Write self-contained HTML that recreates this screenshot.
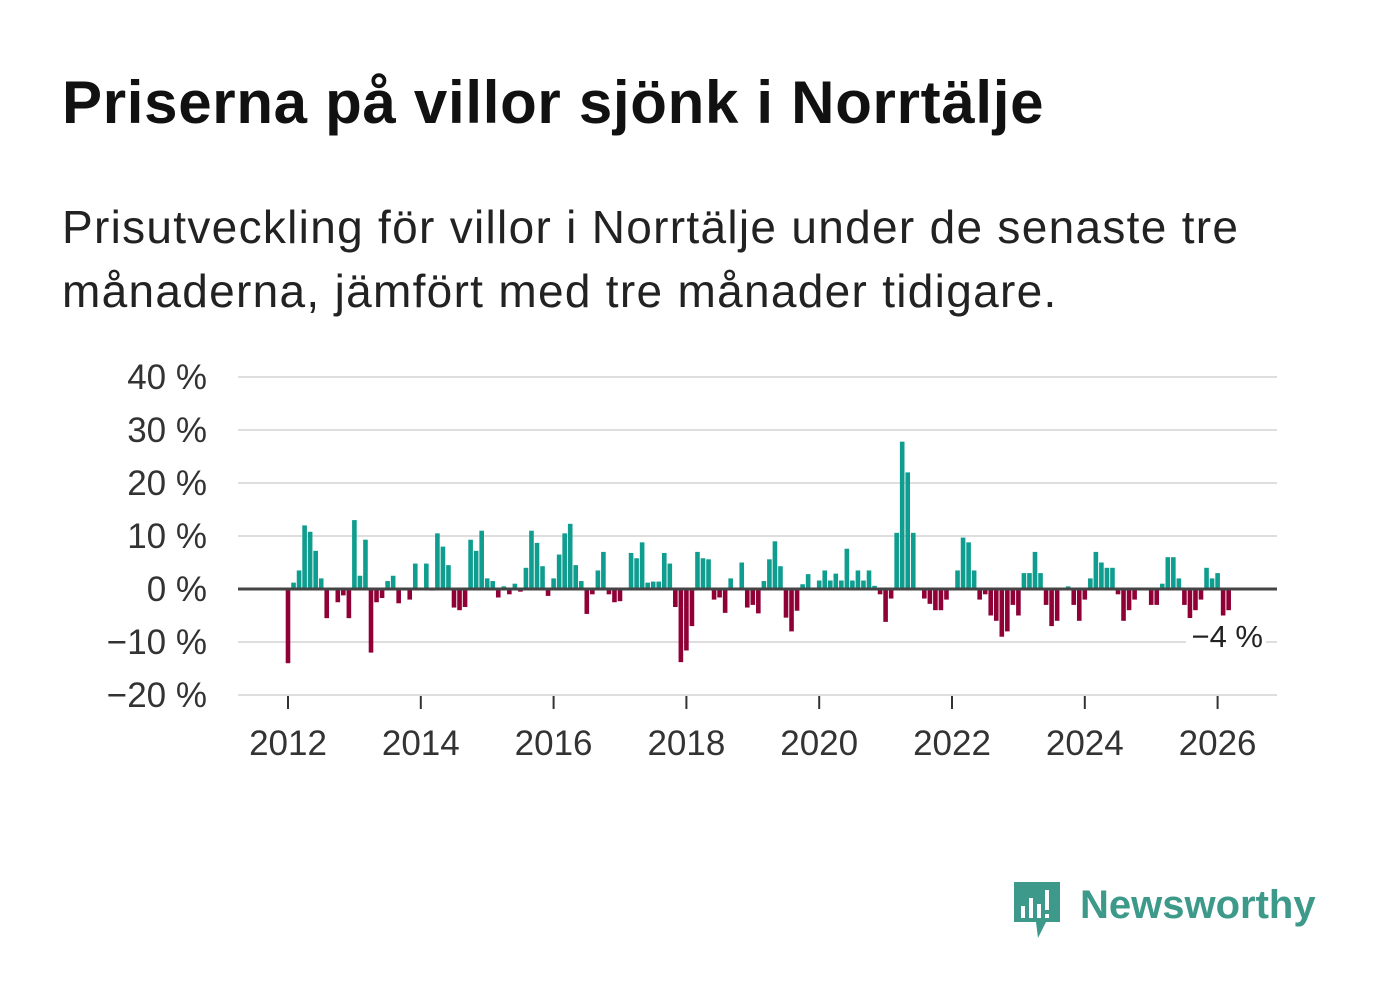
<!DOCTYPE html>
<html><head><meta charset="utf-8">
<style>
body{margin:0;background:#fff;width:1382px;height:999px;overflow:hidden;font-family:"Liberation Sans",sans-serif;}
#title{position:absolute;left:62px;top:68px;font-size:60px;font-weight:bold;color:#111;white-space:nowrap;letter-spacing:0.7px;}
#sub{position:absolute;left:62px;top:195px;font-size:46px;line-height:64px;color:#222;width:1310px;letter-spacing:1.3px;white-space:nowrap;}
svg{position:absolute;left:0;top:0;}
</style></head><body>
<div id="title">Priserna på villor sjönk i Norrtälje</div>
<div id="sub">Prisutveckling för villor i Norrtälje under de senaste tre<br>månaderna, jämfört med tre månader tidigare.</div>
<svg id="chart" width="1382" height="999"></svg>
<script>
const values=[-14,1.2,3.5,12,10.8,7.2,2,-5.5,0,-2.5,-1.2,-5.5,13,2.5,9.3,-12,-2.5,-1.7,1.5,2.5,-2.7,0,-2,4.8,0,4.8,-0.3,10.5,8,4.5,-3.5,-4,-3.4,9.3,7.2,11,2,1.5,-1.6,0.5,-1,1,-0.5,4,11,8.7,4.3,-1.3,2,6.5,10.5,12.3,4.5,1.5,-4.7,-1,3.5,7,-1,-2.5,-2.3,0,6.8,5.8,8.8,1.2,1.4,1.4,6.8,4.8,-3.4,-13.8,-11.6,-7,7,5.8,5.6,-2,-1.6,-4.5,2,0,5,-3.5,-3,-4.6,1.5,5.6,9,4.3,-5.4,-8,-4.1,0.9,2.8,0,1.6,3.5,1.6,2.9,1.6,7.6,1.6,3.5,1.6,3.5,0.6,-1,-6.2,-1.8,10.6,27.8,22,10.6,0,-1.8,-2.8,-4,-4,-2,0,3.5,9.7,8.8,3.5,-2,-1,-5,-6,-9,-8,-3,-5,3,3,7,3,-3,-7,-6,0,0.5,-3,-6,-2,2,7,5,4,4,-1,-6,-4,-2,0,0,-3,-3,1,6,6,2,-3,-6,-4,-2,4,2,3,-5,-4];
const yTicks=[40,30,20,10,0,-10,-20];
const yTickLabels=["40 %","30 %","20 %","10 %","0 %","−10 %","−20 %"];
const xYears=[2012,2014,2016,2018,2020,2022,2024,2026];
const startYear=2012;
const lastLabel="−4 %";

const NS="http://www.w3.org/2000/svg";
const svg=document.getElementById('chart');
const y=v=>589-v*5.3;
const x=m=>288+m*(66.4/12);
function mk(t,a){const e=document.createElementNS(NS,t);for(const k in a)e.setAttribute(k,a[k]);svg.appendChild(e);return e;}
yTicks.forEach((t,i)=>{
  if(t!==0){const g=mk('line',{x1:238,x2:1277,y1:y(t),y2:y(t),stroke:'#dedede','stroke-width':2});
  
  }
  const l=mk('text',{x:207,y:y(t)+12,'text-anchor':'end','font-size':35,fill:'#333','font-family':'Liberation Sans, sans-serif'});
  l.textContent=yTickLabels[i];
  
  
});
values.forEach((v,i)=>{
  const b=mk('rect',{x:x(i)-2.3,width:4.6,y:Math.min(y(v),y(0)),height:Math.abs(y(v)-y(0)),fill:v>=0?'#0e9d8e':'#8f0037'});
  
  
});
const z=mk('line',{x1:238,x2:1277,y1:y(0),y2:y(0),stroke:'#444','stroke-width':3});


xYears.forEach(yr=>{
  const xx=x((yr-startYear)*12);
  const t=mk('line',{x1:xx,x2:xx,y1:696,y2:709,stroke:'#333','stroke-width':2});
  
  
  const l=mk('text',{x:xx,y:755,'text-anchor':'middle','font-size':35,fill:'#333','font-family':'Liberation Sans, sans-serif'});
  l.textContent=yr;
  
  
});
const bg=mk('rect',{x:1186,y:618,width:80,height:36,fill:'#fff'});


const lv=mk('text',{x:1263,y:647,'text-anchor':'end','font-size':31,fill:'#222','font-family':'Liberation Sans, sans-serif'});
lv.textContent=lastLabel;


</script>
<svg width="1382" height="999" style="position:absolute;left:0;top:0;pointer-events:none">
<path d="M1014 882 h46 v40 h-14 l-8 16 l-2-16 h-22 z" fill="#3d9a8b"/>
<rect x="1021" y="906" width="4" height="12" fill="#fff"/>
<rect x="1029" y="898" width="4" height="20" fill="#fff"/>
<rect x="1037" y="904" width="4" height="14" fill="#fff"/>
<rect x="1045" y="890" width="4" height="20" fill="#fff"/>
<rect x="1045" y="914" width="4" height="4" fill="#fff"/>
<text x="1080" y="918" font-size="40" font-weight="bold" fill="#3d9a8b" font-family="Liberation Sans, sans-serif">Newsworthy</text>
</svg>
</body></html>
